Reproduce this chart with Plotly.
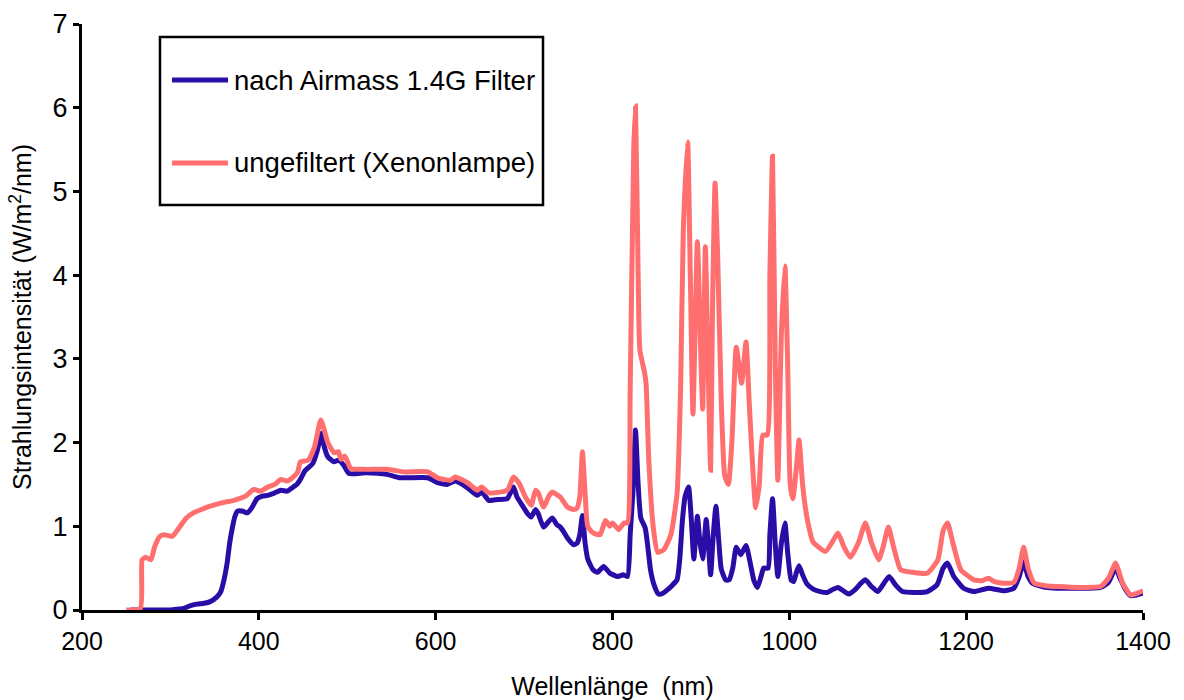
import plotly.graph_objects as go

# ---- data ----
blue_nm = [255, 300, 308, 315, 322, 330, 338, 345, 352, 357, 361, 364, 367, 370, 373, 376, 382, 387, 392, 398,
           404, 410, 418, 425, 432, 439, 443, 447, 452, 456, 461, 466, 471, 474, 478, 485, 490, 496, 502, 521,
           545, 559, 591, 602, 613, 622, 636, 647, 652, 660, 670, 681, 688, 692, 698, 704, 708, 713, 716, 722,
           728, 732, 737, 741, 745, 749, 756, 760, 763, 766, 769, 772, 778, 783, 790, 797, 806, 812, 817, 820,
           823, 826, 829, 832, 837, 840, 843, 847, 852, 857, 862, 868, 873, 876, 879, 882, 886, 889, 892, 896,
           899, 902, 906, 909, 911, 914, 917, 920, 923, 928, 932, 936, 940, 945, 951, 956, 960, 964, 968, 971,
           976, 978, 981, 984, 987, 991, 995, 998, 1002, 1005, 1008, 1011, 1015, 1020, 1027, 1035, 1043, 1050,
           1055, 1061, 1067, 1075, 1081, 1086, 1093, 1100, 1107, 1113, 1120, 1128, 1145, 1156, 1167, 1174, 1179,
           1186, 1197, 1209, 1225, 1243, 1254, 1260, 1265, 1270, 1275, 1290, 1303, 1352, 1361, 1369, 1374, 1380,
           1386, 1393, 1400]
blue_val = [0, 0, 0.01, 0.02, 0.05, 0.07, 0.08, 0.1, 0.15, 0.22, 0.38, 0.55, 0.8, 0.98, 1.12, 1.18, 1.18, 1.16, 1.22, 1.33,
            1.36, 1.37, 1.4, 1.43, 1.42, 1.47, 1.5, 1.56, 1.66, 1.7, 1.75, 1.9, 2.11, 1.95, 1.83, 1.77, 1.79, 1.73, 1.63, 1.64,
            1.62, 1.58, 1.58, 1.52, 1.5, 1.54, 1.46, 1.37, 1.41, 1.31, 1.32, 1.33, 1.47, 1.35, 1.25, 1.15, 1.11, 1.2, 1.15, 0.99,
            1.06, 1.1, 1.02, 0.99, 0.93, 0.86, 0.78, 0.8, 0.9, 1.13, 0.8, 0.61, 0.48, 0.45, 0.52, 0.44, 0.4, 0.42, 0.4, 0.9,
            1.39, 2.15, 1.5, 1.1, 0.98, 0.75, 0.48, 0.3, 0.19, 0.2, 0.24, 0.3, 0.36, 0.6, 1.06, 1.35, 1.47, 1.1, 0.61, 1.12,
            0.8, 0.61, 1.08, 0.7, 0.42, 0.9, 1.24, 0.85, 0.49, 0.36, 0.36, 0.5, 0.75, 0.66, 0.77, 0.55, 0.35, 0.27, 0.4, 0.5,
            0.5, 0.9, 1.33, 0.8, 0.4, 0.8, 1.04, 0.7, 0.36, 0.34, 0.45, 0.53, 0.42, 0.31, 0.25, 0.22, 0.21, 0.25,
            0.27, 0.23, 0.19, 0.25, 0.32, 0.36, 0.28, 0.22, 0.32, 0.4, 0.3, 0.22, 0.21, 0.22, 0.3, 0.5, 0.56,
            0.4, 0.26, 0.22, 0.26, 0.23, 0.26, 0.4, 0.57, 0.4, 0.32, 0.27, 0.26, 0.27, 0.33, 0.5, 0.38, 0.25,
            0.17, 0.18, 0.2]

red_nm = [250, 266, 268, 272, 278, 282, 288, 293, 302, 311, 318, 326, 335, 345, 358, 372, 385, 394, 402, 410,
          418, 425, 432, 439, 444, 447, 456, 463, 470, 474, 478, 485, 490, 493, 497, 500, 504, 520, 545, 565,
          591, 602, 617, 622, 636, 647, 652, 660, 681, 688, 694, 702, 708, 713, 716, 722, 728, 732, 738, 741,
          749, 756, 760, 763, 766, 769, 772, 778, 786, 792, 797, 800, 807, 813, 817, 820, 824, 826, 829, 831,
          836, 838, 841, 846, 851, 858, 866, 873, 877, 880, 885, 888, 891, 896, 900, 902, 905, 908, 911, 913,
          916, 919, 923, 927, 931, 935, 940, 946, 951, 955, 962, 966, 970, 975, 978, 981, 984, 987, 991, 995,
          998, 1001, 1004, 1008, 1011, 1015, 1020, 1027, 1041, 1049, 1055, 1062, 1069, 1078, 1086, 1093, 1101,
          1106, 1112, 1118, 1126, 1140, 1156, 1168, 1174, 1179, 1185, 1194, 1209, 1218, 1225, 1232, 1243, 1254,
          1260, 1265, 1270, 1277, 1290, 1303, 1330, 1352, 1361, 1369, 1373, 1377, 1386, 1393, 1400]
red_val = [0, 0.02, 0.6, 0.63, 0.6, 0.75, 0.88, 0.9, 0.88, 1.0, 1.1, 1.16, 1.2, 1.24, 1.28, 1.31, 1.36, 1.44, 1.42, 1.47,
           1.5, 1.56, 1.54, 1.59, 1.65, 1.77, 1.79, 1.95, 2.27, 2.15, 2.0, 1.88, 1.89, 1.8, 1.84, 1.78, 1.69, 1.68, 1.68, 1.65,
           1.65, 1.58, 1.55, 1.59, 1.52, 1.43, 1.47, 1.4, 1.43, 1.59, 1.52, 1.34, 1.25, 1.43, 1.4, 1.23, 1.36, 1.41, 1.37, 1.35,
           1.23, 1.2, 1.22, 1.35, 1.89, 1.4, 1.0, 0.92, 0.9, 1.07, 1.0, 1.04, 0.96, 1.04, 1.04, 2.63, 5.5, 6.02, 4.0, 3.1,
           2.85, 2.7, 1.8, 1.0, 0.69, 0.72, 0.9, 1.39, 2.63, 4.5, 5.59, 4.0, 2.34, 4.4, 3.0, 2.4, 4.34, 3.0, 1.67, 3.5,
           5.1, 4.2, 2.5, 1.6, 1.5, 2.0, 3.14, 2.71, 3.2, 2.4, 1.22, 1.5, 2.09, 2.09, 4.0, 5.42, 3.0, 1.55, 3.3, 4.11,
           3.0, 1.5, 1.33, 1.7, 2.03, 1.5, 1.1, 0.81, 0.7, 0.82, 0.92, 0.75, 0.63, 0.8, 1.04, 0.8, 0.6,
           0.75, 0.99, 0.75, 0.48, 0.45, 0.44, 0.6, 0.95, 1.04, 0.8, 0.48, 0.36, 0.35, 0.38, 0.34, 0.32, 0.33,
           0.5, 0.75, 0.5, 0.32, 0.29, 0.28, 0.27, 0.28, 0.38, 0.56, 0.45, 0.32, 0.18, 0.2, 0.23]

series_names = ["nach Airmass 1.4G Filter", "ungefiltert (Xenonlampe)"]
x_ticks = [200, 400, 600, 800, 1000, 1200, 1400]
y_ticks = [0, 1, 2, 3, 4, 5, 6, 7]

BLUE = "#2A0CA6"
RED = "#FF6F6F"
FONT = "Liberation Sans, Arial, sans-serif"

fig = go.Figure()
fig.add_trace(go.Scatter(x=blue_nm, y=blue_val, mode="lines", name=series_names[0],
                         line=dict(color=BLUE, width=5, shape="spline", smoothing=0.5)))
fig.add_trace(go.Scatter(x=red_nm, y=red_val, mode="lines", name=series_names[1],
                         line=dict(color=RED, width=5, shape="spline", smoothing=0.5)))

# ---- manual legend box (paper coords of the plot area) ----
shapes = [
    dict(type="rect", xref="paper", yref="paper", x0=0.0735, x1=0.4345, y0=0.691, y1=0.978,
         line=dict(color="black", width=2.5), fillcolor="white", layer="below"),
]
annotations = []
for yy, col, name in [(0.9044, BLUE, series_names[0]), (0.7628, RED, series_names[1])]:
    shapes.append(dict(type="line", xref="paper", yref="paper", x0=0.0848, x1=0.1376, y0=yy, y1=yy,
                       line=dict(color=col, width=5)))
    annotations.append(dict(xref="paper", yref="paper", x=0.1415, y=yy, xanchor="left", yanchor="middle",
                            text=name, showarrow=False, font=dict(family=FONT, size=27.5, color="black")))

fig.update_layout(
    width=1184, height=700,
    margin=dict(l=82, r=41, t=24, b=90),
    plot_bgcolor="white", paper_bgcolor="white",
    showlegend=False,
    shapes=shapes,
    annotations=annotations,
    xaxis=dict(
        range=[200, 1400], tickvals=x_ticks, ticktext=[str(v) for v in x_ticks],
        showline=True, linecolor="black", linewidth=3, mirror=False, automargin=False,
        ticks="outside", ticklen=7, tickwidth=3, tickcolor="black",
        showgrid=False, zeroline=False, tickfont=dict(family=FONT, size=25, color="black"),
        title=dict(text="Wellenlänge  (nm)", font=dict(family=FONT, size=25, color="black"), standoff=24),
    ),
    yaxis=dict(
        range=[0, 7], tickvals=y_ticks, ticktext=[str(v) for v in y_ticks],
        showline=True, linecolor="black", linewidth=3, mirror=False, automargin=False,
        ticks="outside", ticklen=6, tickwidth=3, tickcolor="black",
        showgrid=False, zeroline=False, tickfont=dict(family=FONT, size=27, color="black"),
        title=dict(text="Strahlungsintensität (W/m<sup>2</sup>/nm)",
                   font=dict(family=FONT, size=25, color="black"), standoff=14),
    ),
)

fig.write_html("out.html")
